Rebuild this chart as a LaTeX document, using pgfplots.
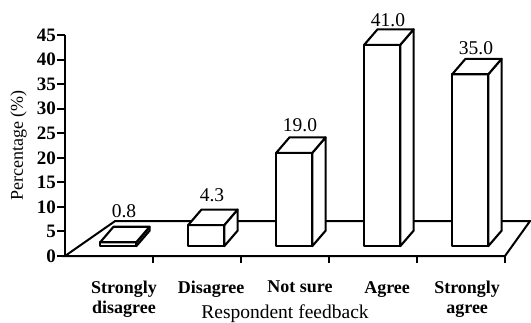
\documentclass[border=0pt]{standalone}
\usepackage{fontspec}
\setmainfont{Liberation Serif}
\usepackage{pgfplots}
\usepackage{pgfplotstable}
\pgfplotsset{compat=1.18}

% Share of respondents for each answer (%)
\pgfplotstableread{
idx val
0 0.8
1 4.3
2 19.0
3 41.0
4 35.0
}\feedback

% geometry of the pseudo-3D boxes (axis units)
\def\barleft{-0.1}
\def\barright{0.31}
\def\depthx{0.151}
\def\depthy{3.15}
\def\barbase{2}

\begin{document}
\begin{tikzpicture}[x=1pt,y=1pt]
\useasboundingbox (0,0) rectangle (531,322);
\begin{axis}[
  at={(65pt,66pt)}, anchor=south west,
  scale only axis, width=440pt, height=221pt,
  xmin=-0.5, xmax=4.5, ymin=0, ymax=45,
  clip=false,
  axis x line*=bottom, axis y line*=left,
  axis line style={line width=2pt},
  tick style={line width=2pt, black},
  tick align=outside,
  ytick={0,5,...,45},
  major tick length=8pt,
  yticklabel style={font=\fontsize{19}{21}\selectfont\bfseries, inner sep=1pt},
  /pgf/number format/assume math mode=true,
  xtick={0.17,1.16,2.17,3.16,4.07},
  xticklabels={Strongly\\disagree, Disagree, Not sure, Agree, Strongly\\agree},
  x tick style={draw=none},
  xticklabel style={font=\fontsize{18}{20}\selectfont\bfseries, align=center, inner sep=1pt, yshift=-16pt},
  extra x ticks={0.5,1.5,2.5,3.5,4.5},
  extra x tick labels={},
  extra x tick style={x tick style={draw=black, line width=2pt}, major tick length=7pt},
  xlabel={Respondent feedback},
  x label style={font=\fontsize{19.5}{21}\selectfont, at={(axis description cs:0.5,0)}, anchor=base, yshift=-62pt},
  ylabel={Percentage (\%)},
  y label style={font=\fontsize{18}{20}\selectfont, at={(axis description cs:0,0.5)}, anchor=center, yshift=46.5pt},
  every axis plot/.append style={mark=none},
]

% floor of the chart
\addplot[fill=white, draw=black, line width=2pt, line join=miter]
  coordinates {(-0.5,0) (0.068,7.1) (4.784,7.1) (4.5,0)} -- cycle;

% one box per answer: front face, right face, top face
\pgfplotsinvokeforeach{0,...,4}{
  \pgfplotstablegetelem{#1}{val}\of\feedback
  \pgfmathsetmacro\xa{#1+\barleft}
  \pgfmathsetmacro\xb{#1+\barright}
  \pgfmathsetmacro\xc{#1+\barleft+\depthx}
  \pgfmathsetmacro\xd{#1+\barright+\depthx}
  \pgfmathsetmacro\ya{\barbase}
  \pgfmathsetmacro\yb{\barbase+\pgfplotsretval}
  \pgfmathsetmacro\yc{\barbase+\depthy}
  \pgfmathsetmacro\yd{\barbase+\pgfplotsretval+\depthy}
  \addplot[fill=white, draw=black, line width=2.1pt, line join=round]
    coordinates {(\xa,\ya) (\xb,\ya) (\xb,\yb) (\xa,\yb)} -- cycle;
  \addplot[fill=white, draw=black, line width=2.1pt, line join=round]
    coordinates {(\xb,\ya) (\xd,\yc) (\xd,\yd) (\xb,\yb)} -- cycle;
  \addplot[fill=white, draw=black, line width=2.1pt, line join=round]
    coordinates {(\xa,\yb) (\xb,\yb) (\xd,\yd) (\xc,\yd)} -- cycle;
}

% value labels above each box
\addplot[draw=none, nodes near coords,
  point meta=explicit,
  nodes near coords={\pgfmathprintnumber[fixed, fixed zerofill, precision=1, assume math mode=true]{\pgfplotspointmeta}},
  every node near coord/.append style={font=\fontsize{19.5}{21}\selectfont, anchor=base, inner sep=0pt}]
  table[x expr=\coordindex+0.17, y expr=0.97*\thisrow{val}+7, meta=val] {\feedback};
\end{axis}
\end{tikzpicture}
\end{document}
